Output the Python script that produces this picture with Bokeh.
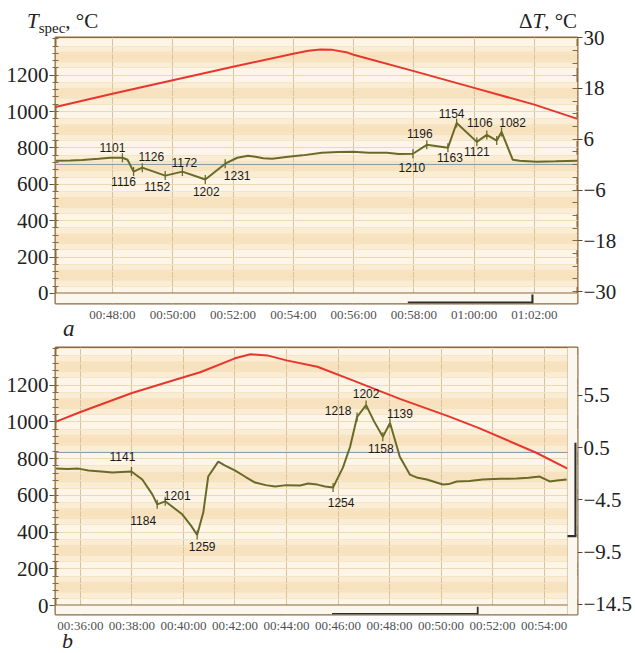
import numpy as np
from bokeh.plotting import figure
from bokeh.models import Range1d, LinearAxis, FixedTicker, BoxAnnotation, ColumnDataSource, Div
from bokeh.layouts import column
from bokeh.embed import file_html
from bokeh.resources import INLINE
from bokeh.core.properties import value

# ---------------- panel a data (time in minutes) ----------------
a_red_time = [46.11, 48.0, 50.0, 52.0, 54.0, 54.5, 54.9, 55.3, 55.8, 56.0, 58.0, 60.0, 62.0, 63.43]
a_red_T = [1025, 1098, 1172, 1246, 1318, 1334, 1341, 1339, 1324, 1312, 1222, 1130, 1038, 960]

a_dT_time = [46.11, 46.6, 47.0, 47.54, 47.93, 48.33, 48.50, 48.70, 48.99, 49.75, 50.32, 51.08,
             51.74, 52.14, 52.5, 52.74, 53.0, 53.30, 53.83, 54.3, 54.95, 55.5, 55.98, 56.5,
             57.11, 57.5, 57.97, 58.43, 59.13, 59.42, 60.09, 60.42, 60.75, 60.91, 61.28,
             61.51, 62.07, 62.7, 63.43]
a_dT = [0.94, 1.0, 1.1, 1.41, 1.64, 1.64, 1.17, -1.64, -0.70, -2.58, -1.64, -3.51,
        0.24, 1.64, 2.1, 1.88, 1.5, 1.41, 1.88, 2.2, 2.81, 3.0, 3.05, 2.8,
        2.81, 2.5, 2.58, 4.69, 3.99, 9.84, 5.39, 7.03, 5.7, 7.74, 1.17,
        0.94, 0.70, 0.8, 0.94]

a_mark_time = [48.33, 48.70, 48.99, 49.75, 50.32, 51.08, 51.74, 57.97, 58.43, 59.13,
               59.42, 60.09, 60.42, 60.75, 60.91]
a_mark_text = ["1101", "1116", "1126", "1152", "1172", "1202", "1231", "1210", "1196",
               "1163", "1154", "1121", "1106", "", "1082"]
a_mark_dx = [-10, -10, 9, -8, 2, 1, 12, -1, -7, 2, -5, 0, -7, 0, 11]
a_mark_dy = [-10, 10, -11, 11, -9, 12, 12, 14, -11, 10, -10, 10, -12, 0, -9]

a_xticks = [48, 50, 52, 54, 56, 58, 60, 62]
a_xlabels = ["00:48:00", "00:50:00", "00:52:00", "00:54:00", "00:56:00", "00:58:00",
             "01:00:00", "01:02:00"]
a_left_ticks = [0, 200, 400, 600, 800, 1000, 1200]
a_right_ticks = [-30, -18, -6, 6, 18, 30]
a_right_labels = ["\u221230", "\u221218", "\u22126", "6", "18", "30"]

# ---------------- panel b data ----------------
b_red_time = [35.03, 36.0, 38.0, 40.0, 40.65, 42.0, 42.6, 43.25, 44.0, 45.2, 46.5,
              48.4, 50.3, 51.5, 53.7, 54.91]
b_red_T = [1000, 1054, 1157, 1243, 1270, 1346, 1368, 1362, 1335, 1300, 1230,
           1125, 1030, 965, 832, 746]

b_dT_time = [35.03, 35.5, 35.92, 36.31, 36.8, 37.24, 37.6, 37.98, 38.40, 38.79, 38.98,
             39.29, 39.95, 40.3, 40.53, 40.77, 40.96, 41.35, 41.6, 42.01, 42.4, 42.78,
             43.2, 43.56, 44.0, 44.53, 44.84, 45.2, 45.50, 45.81, 46.19, 46.47, 46.74,
             47.09, 47.4, 47.74, 48.02, 48.40, 48.79, 49.1, 49.45, 50.07, 50.3, 50.61,
             51.1, 51.62, 52.3, 52.94, 53.4, 53.83, 54.22, 54.5, 54.88]
b_dT = [-1.52, -1.55, -1.52, -1.71, -1.80, -1.90, -1.85, -1.80, -2.56, -3.99, -4.94,
        -4.65, -5.89, -7.0, -7.88, -5.70, -2.28, -0.85, -1.2, -1.71, -2.3, -2.85,
        -3.1, -3.23, -3.1, -3.13, -2.94, -3.05, -3.23, -3.32, -1.42, 0.57, 3.42,
        4.56, 3.0, 1.52, 2.85, -0.38, -2.09, -2.4, -2.56, -3.04, -3.0, -2.75,
        -2.7, -2.56, -2.5, -2.47, -2.4, -2.28, -2.75, -2.65, -2.56]

b_mark_time = [37.98, 38.98, 39.29, 40.53, 45.81, 46.74, 47.09, 47.74, 48.02]
b_mark_text = ["1141", "1184", "1201", "1259", "1254", "1218", "1202", "1158", "1139"]
b_mark_dx = [-9, -14, 12, 5, 8, -19, 0, -2, 10]
b_mark_dy = [-15, 16, -6, 11, 15, -6, -12, 12, -9]

b_xticks = [36, 38, 40, 42, 44, 46, 48, 50, 52, 54]
b_xlabels = ["00:36:00", "00:38:00", "00:40:00", "00:42:00", "00:44:00", "00:46:00",
             "00:48:00", "00:50:00", "00:52:00", "00:54:00"]
b_left_ticks = [0, 200, 400, 600, 800, 1000, 1200]
b_right_ticks = [-14.5, -9.5, -4.5, 0.5, 5.5]
b_right_labels = ["\u221214.5", "\u22129.5", "\u22124.5", "0.5", "5.5"]

# ---------------- styling ----------------
RED = "#e8362c"
OLIVE = "#6a6a28"
BROWN = "#8a6a3c"
GRIDV = "#d9c39e"
LIGHT = "#fdf6e8"
MID = "#fbedd4"
DARK = "#f8e2bd"
STRIP = "#fcf7ee"
THUMB = "#2e2e2e"
SERIF = "Liberation Serif"
SANS = "Liberation Sans"
W = 635


def panel(height, top, bottom, xr, yr, yr2, red_t, red_T, dT_t, dT, mk_t, mk_s, mk_dx, mk_dy,
          xticks, xlabels, lticks, rticks, rlabels, rminor, data_end=None):
    p = figure(width=W, height=height, x_range=Range1d(*xr), y_range=Range1d(*yr),
               output_backend="svg", toolbar_location=None,
               min_border_left=55, min_border_right=57, min_border_top=top,
               min_border_bottom=bottom)
    p.extra_y_ranges = {"dT": Range1d(*yr2)}
    p.background_fill_color = LIGHT
    p.border_fill_alpha = 0
    p.outline_line_color = BROWN
    p.outline_line_width = 2

    # background bands
    lo, hi = [], []
    for k in range(0, 1500, 200):
        lo.append(k + 40); hi.append(k + 70)
        lo.append(k + 130); hi.append(k + 160)
    p.quad(left=xr[0], right=xr[1], bottom=lo, top=hi, fill_color=MID, line_color=None, level="image")
    lo2 = [k + 70 for k in range(0, 1500, 200)]
    hi2 = [k + 130 for k in range(0, 1500, 200)]
    p.quad(left=xr[0], right=xr[1], bottom=lo2, top=hi2, fill_color=DARK, line_color=None, level="image")

    # grids
    p.xgrid.ticker = FixedTicker(ticks=xticks)
    p.xgrid.grid_line_color = GRIDV
    p.ygrid.ticker = FixedTicker(ticks=lticks, minor_ticks=list(range(0, 1401, 40)))
    p.ygrid.grid_line_color = "#eed8b2"
    p.ygrid.minor_grid_line_color = "#f4e4c8"

    # axes
    xa = p.xaxis[0]
    xa.ticker = FixedTicker(ticks=xticks)
    xa.major_label_overrides = dict(zip(xticks, xlabels))
    xa.axis_line_color = None
    xa.major_tick_line_color = None
    xa.minor_tick_line_color = None
    xa.major_tick_out = 0
    xa.major_tick_in = 0
    xa.minor_tick_out = 0
    xa.minor_tick_in = 0
    xa.major_label_text_font = SERIF
    xa.major_label_text_font_size = "13px"
    xa.major_label_text_color = "#505050"
    xa.major_label_standoff = 3

    ya = p.yaxis[0]
    ya.ticker = FixedTicker(ticks=lticks, minor_ticks=list(range(0, 1401, 40)))
    ya.axis_line_color = None
    ya.major_tick_out = 6
    ya.major_tick_in = 0
    ya.minor_tick_out = 3
    ya.minor_tick_in = 3
    ya.major_tick_line_color = "#5a4a30"
    ya.minor_tick_line_color = BROWN
    ya.major_label_text_font = SERIF
    ya.major_label_text_font_size = "21px"
    ya.major_label_text_color = "#222222"
    ya.major_label_standoff = 1

    ra = LinearAxis(y_range_name="dT", ticker=FixedTicker(ticks=rticks, minor_ticks=rminor))
    ra.major_label_overrides = dict(zip(rticks, rlabels))
    ra.axis_line_color = None
    ra.major_tick_out = 5
    ra.major_tick_in = 0
    ra.minor_tick_out = 0
    ra.minor_tick_in = 5
    ra.major_tick_line_color = "#5a4a30"
    ra.minor_tick_line_color = BROWN
    ra.major_label_text_font = SERIF
    ra.major_label_text_font_size = "21px"
    ra.major_label_text_color = "#222222"
    ra.major_label_standoff = 1
    p.add_layout(ra, "right")

    # scroll strip below zero (decoration)
    p.add_layout(BoxAnnotation(top=0, fill_color=STRIP, fill_alpha=1, line_color=None))
    if data_end is not None:
        p.add_layout(BoxAnnotation(left=data_end, fill_color=STRIP, fill_alpha=1, line_color=BROWN,
                                   line_width=1))
    p.hspan(y=[0], line_color=BROWN, line_width=2)
    p.hspan(y=[0], y_range_name="dT", line_color="#8d9cab", line_width=1.2)

    # data lines
    p.line(red_t, red_T, line_color=RED, line_width=2)
    p.line(dT_t, dT, y_range_name="dT", line_color=OLIVE, line_width=2)

    mk_y = np.interp(mk_t, dT_t, dT)
    src = ColumnDataSource(dict(t=mk_t, y=mk_y, s=mk_s, dx=mk_dx, dy=mk_dy))
    p.scatter("t", "y", source=src, y_range_name="dT", marker="dash", angle=np.pi / 2,
              size=9, line_color=OLIVE, line_width=1.3)
    p.text("t", "y", text="s", x_offset="dx", y_offset="dy", source=src, y_range_name="dT",
           text_font=value(SANS), text_font_size=value("12px"), text_align="center",
           text_baseline="middle", text_color="#1a1a1a")
    return p


def text_div(height, spans):
    """Title / panel-letter strip; each span is (left px, top px, size px, inner html)."""
    inner = "".join(
        f'<span style="position:absolute;left:{x}px;top:{y}px;font-size:{s}px;'
        f'line-height:0;white-space:nowrap;">{h}</span>'
        for x, y, s, h in spans)
    html = (f'<div style="position:relative;width:{W}px;height:{height}px;'
            f'font-family:\'{SERIF}\',serif;color:#222222;">{inner}</div>')
    return Div(text=html, width=W, height=height, margin=0)


header = text_div(35, [
    (27, 21, 21, '<i>T</i><span style="font-size:15px;position:relative;top:5px;">spec</span>, &deg;C'),
    (519, 21, 21, '&Delta;<i>T</i>, &deg;C'),
])

# panel a overlaps the header by 10 px (transparent border) so its top right label "30" fits
pa = panel(299, 12, 19, (46.11, 63.43), (-55, 1407), (-32.8, 30.05),
           a_red_time, a_red_T, a_dT_time, a_dT, a_mark_time, a_mark_text, a_mark_dx, a_mark_dy,
           a_xticks, a_xlabels, a_left_ticks, a_right_ticks, a_right_labels,
           list(range(-30, 31, 3)))
pa.margin = (-10, 0, 0, 0)
pa.add_layout(BoxAnnotation(left=57.8, right=61.94, top=-44, fill_color=THUMB, fill_alpha=1, line_color=None))
pa.add_layout(BoxAnnotation(left=61.90, right=61.97, top=-6, fill_color=THUMB, fill_alpha=1, line_color=None))

row_a = text_div(21, [(63, 5, 23, '<i>a</i>')])

pb = panel(290, 2, 19, (35.03, 55.30), (-48.6, 1405), (-15.48, 10.07),
           b_red_time, b_red_T, b_dT_time, b_dT, b_mark_time, b_mark_text, b_mark_dx, b_mark_dy,
           b_xticks, b_xlabels, b_left_ticks, b_right_ticks, b_right_labels,
           [v / 2 for v in range(-29, 21)], data_end=54.91)
pb.add_layout(BoxAnnotation(left=45.77, right=51.43, top=-40, fill_color=THUMB, fill_alpha=1, line_color=None))
pb.add_layout(BoxAnnotation(left=51.39, right=51.46, top=-6, fill_color=THUMB, fill_alpha=1, line_color=None))
pb.add_layout(BoxAnnotation(left=55.18, right=55.26, bottom=378, top=886, fill_color=THUMB, fill_alpha=1, line_color=None))
pb.add_layout(BoxAnnotation(left=54.91, right=55.26, bottom=372, top=384, fill_color=THUMB, fill_alpha=1, line_color=None))

row_b = text_div(17, [(62, 6, 22, '<i>b</i>')])

layout = column(header, pa, row_a, pb, row_b)
open("out.html", "w").write(file_html(layout, INLINE))
